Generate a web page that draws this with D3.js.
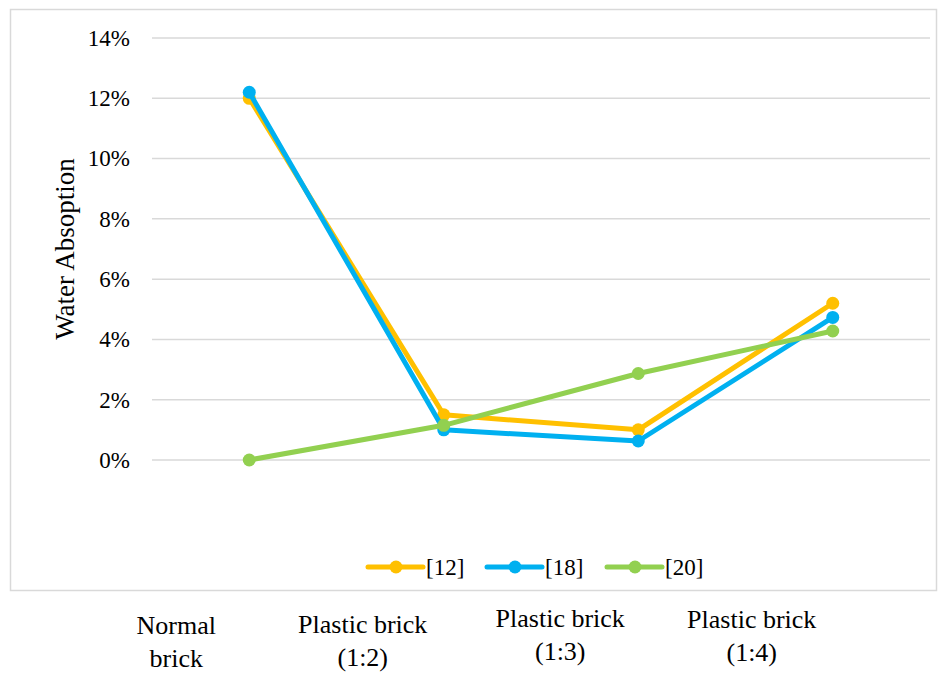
<!DOCTYPE html>
<html>
<head>
<meta charset="utf-8">
<script src="https://cdn.jsdelivr.net/npm/d3@7"></script>
<style>
  body { margin: 0; background: white; }
</style>
</head>
<body>
<div id="chart"></div>
<script>
// data
var categories = ["Normal brick", "Plastic brick (1:2)", "Plastic brick (1:3)", "Plastic brick (1:4)"];
var labelLines = [["Normal", "brick"], ["Plastic brick", "(1:2)"], ["Plastic brick", "(1:3)"], ["Plastic brick", "(1:4)"]];
var seriesNames = ["[12]", "[18]", "[20]"];
var s12 = [0.120, 0.015, 0.010, 0.052];
var s18 = [0.122, 0.010, 0.0063, 0.0473];
var s20 = [0.000, 0.0115, 0.0287, 0.0428];
var yTicks = [0, 0.02, 0.04, 0.06, 0.08, 0.10, 0.12, 0.14];

var colors = ["#FFC000", "#00B0F0", "#92D050"];
var allSeries = [s12, s18, s20];
var FONT = "'Liberation Serif', 'Times New Roman', Times, serif";

var W = 952, H = 673;
var svg = d3.select("#chart").append("svg")
  .attr("width", W)
  .attr("height", H)
  .style("font-family", FONT);

// outer frame
svg.append("rect")
  .attr("x", 10.5).attr("y", 9.5)
  .attr("width", 926).attr("height", 581)
  .attr("fill", "white")
  .attr("stroke", "#d9d9d9")
  .attr("stroke-width", 1.5);

var xscale = d3.scaleBand()
  .domain(categories)
  .range([152, 930]);

var yscale = d3.scaleLinear()
  .domain([0, 0.14])
  .range([460, 38]);

// gridlines
svg.append("g")
  .selectAll("line")
  .data(yTicks)
  .enter().append("line")
  .attr("x1", 152)
  .attr("x2", 930)
  .attr("y1", d => yscale(d))
  .attr("y2", d => yscale(d))
  .attr("stroke", "#d9d9d9")
  .attr("stroke-width", 1.5);

// y axis labels
var yAxis = svg.append("g")
  .attr("transform", "translate(140,0)")
  .call(d3.axisLeft(yscale).tickValues(yTicks).tickFormat(d3.format(".0%")).tickSize(0))
  .attr("font-family", null)
  .attr("font-size", null);
yAxis.select(".domain").remove();
yAxis.selectAll("text")
  .attr("x", -10)
  .style("font-family", FONT)
  .style("font-size", "23px")
  .attr("fill", "#000");

// y title
svg.append("text")
  .attr("transform", "translate(74,249)rotate(-90)")
  .attr("text-anchor", "middle")
  .style("font-family", FONT)
  .style("font-size", "27px")
  .text("Water Absoption");

// lines
var line = d3.line()
  .x((d, i) => xscale(categories[i]) + xscale.bandwidth() / 2)
  .y(d => yscale(d));

allSeries.forEach(function (s, k) {
  svg.append("path")
    .datum(s)
    .attr("fill", "none")
    .attr("stroke", colors[k])
    .attr("stroke-width", 5)
    .attr("stroke-linejoin", "round")
    .attr("d", line);
  svg.append("g")
    .selectAll("circle")
    .data(s)
    .enter().append("circle")
    .attr("cx", (d, i) => xscale(categories[i]) + xscale.bandwidth() / 2)
    .attr("cy", d => yscale(d))
    .attr("r", 6.5)
    .attr("fill", colors[k]);
});

// x labels (sit below the frame, shifted left of points)
var labelDx = [-73, -81, -78, -81];
var labelBase = [634, 633, 627, 628];
labelLines.forEach(function (lines, i) {
  var cx = xscale(categories[i]) + xscale.bandwidth() / 2 + labelDx[i];
  lines.forEach(function (t, j) {
    svg.append("text")
      .attr("x", cx)
      .attr("y", labelBase[i] + j * 33)
      .attr("text-anchor", "middle")
      .style("font-family", FONT)
      .style("font-size", "26px")
      .text(t);
  });
});

// legend
var legendX = [368, 487, 607];
seriesNames.forEach(function (name, k) {
  var g = svg.append("g").attr("transform", "translate(" + legendX[k] + ",567)");
  g.append("line")
    .attr("x1", 0).attr("x2", 55)
    .attr("stroke", colors[k])
    .attr("stroke-width", 5)
    .attr("stroke-linecap", "round");
  g.append("circle").attr("cx", 28).attr("r", 6.5).attr("fill", colors[k]);
  g.append("text")
    .attr("x", 58)
    .attr("y", 8)
    .style("font-family", FONT)
    .style("font-size", "23px")
    .text(name);
});
</script>
</body>
</html>
